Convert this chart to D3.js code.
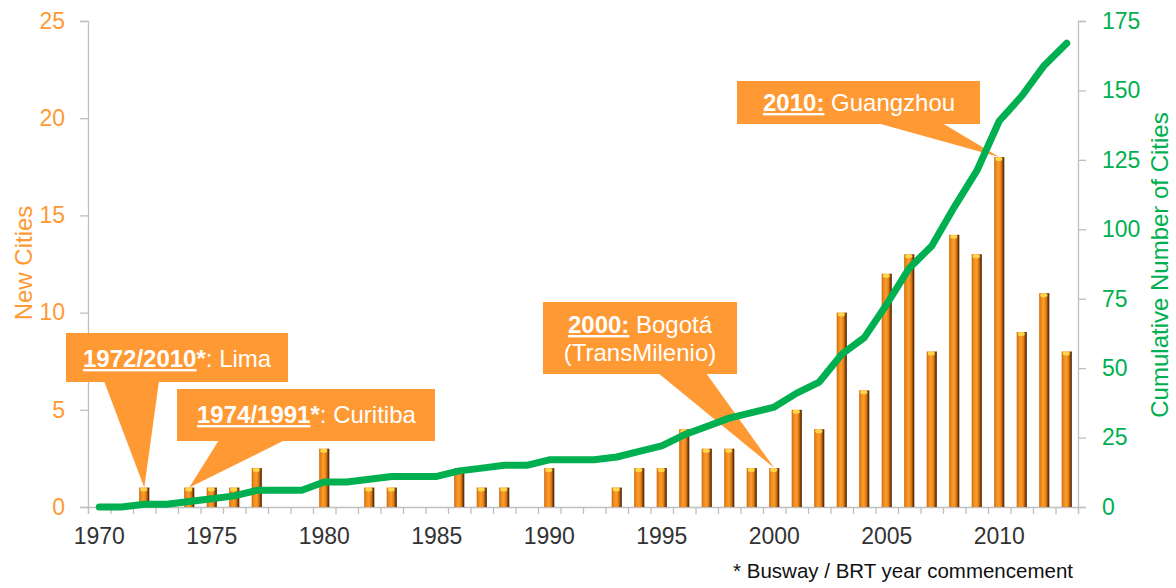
<!DOCTYPE html>
<html>
<head>
<meta charset="utf-8">
<script src="https://cdn.jsdelivr.net/npm/d3@7"></script>
<style>
  body { margin: 0; background: #fff; }
  svg text { font-family: "Liberation Sans", Arial, sans-serif; }
</style>
</head>
<body>
<div class="canvas"></div>
<script>
// data
const years = [1970, 1971, 1972, 1973, 1974, 1975, 1976, 1977, 1978, 1979,
    1980, 1981, 1982, 1983, 1984, 1985, 1986, 1987, 1988, 1989,
    1990, 1991, 1992, 1993, 1994, 1995, 1996, 1997, 1998, 1999,
    2000, 2001, 2002, 2003, 2004, 2005, 2006, 2007, 2008, 2009,
    2010, 2011, 2012, 2013]
const newCities = [0, 0, 1, 0, 1, 1, 1, 2, 0, 0,
    3, 0, 1, 1, 0, 0, 2, 1, 1, 0,
    2, 0, 0, 1, 2, 2, 4, 3, 3, 2,
    2, 5, 4, 10, 6, 12, 13, 8, 14, 13,
    18, 9, 11, 8]
const cumulative = [0, 0, 1, 1, 2, 3, 4, 6, 6, 6,
    9, 9, 10, 11, 11, 11, 13, 14, 15, 15,
    17, 17, 17, 18, 20, 22, 26, 29, 32, 34,
    36, 41, 45, 55, 61, 73, 86, 94, 108, 121,
    139, 148, 159, 167]
const yearLabels = [1970, 1975, 1980, 1985, 1990, 1995, 2000, 2005, 2010]
const leftTicks = [0, 5, 10, 15, 20, 25]
const rightTicks = [0, 25, 50, 75, 100, 125, 150, 175]

// callouts: year the pointer hits, then text pieces [text, bold, underline]
const callouts = [
    { year: 1972, parts: [["1972/2010", true, true], ["*", true, false], [": Lima", false, false]] },
    { year: 1974, parts: [["1974/1991", true, true], ["*", true, false], [": Curitiba", false, false]] },
    { year: 2000, parts: [["2000:", true, true], [" Bogotá", false, false]], line2: "(TransMilenio)" },
    { year: 2010, parts: [["2010:", true, true], [" Guangzhou", false, false]] }
]

const width = 1176
const height = 588
const orange = "#ff9933"
const green = "#00b050"
const axisGrey = "#bfbfbf"

const svg = d3.select(".canvas").append("svg")
    .attr("width", width)
    .attr("height", height)

const x = d3.scaleBand()
    .domain(years)
    .range([88, 1078])
    .paddingInner(0.55)
    .paddingOuter(0.275)
const xEdge = d3.scaleLinear().domain([1970, 2014]).range([88, 1078])
const yLeft = d3.scaleLinear().domain([0, 25]).range([507, 21])
const yRight = d3.scaleLinear().domain([0, 175]).range([507, 21])

// gradient for cylinder bars
const defs = svg.append("defs")
const grad = defs.append("linearGradient").attr("id", "barGrad")
    .attr("x1", "0%").attr("x2", "100%").attr("y1", "0%").attr("y2", "0%")
const stops = [[0, "#c8680a"], [0.2, "#f08a1a"], [0.45, "#fb9d30"], [0.7, "#e07a12"], [0.85, "#8a4406"], [1, "#3d1e02"]]
stops.forEach(s => grad.append("stop").attr("offset", s[0]).attr("stop-color", s[1]))

// left axis
const gLeft = svg.append("g").attr("transform", "translate(88,0)")
    .call(d3.axisLeft(yLeft).tickValues(leftTicks).tickSize(8).tickPadding(15))
gLeft.selectAll("path, line").attr("stroke", axisGrey).attr("stroke-width", 1.3)
gLeft.selectAll("text").attr("fill", orange).style("font-size", "23px")

// right axis
const gRight = svg.append("g").attr("transform", "translate(1078,0)")
    .call(d3.axisRight(yRight).tickValues(rightTicks).tickSize(8).tickPadding(16))
gRight.selectAll("path, line").attr("stroke", axisGrey).attr("stroke-width", 1.3)
gRight.selectAll("text").attr("fill", green).style("font-size", "23px")

// bottom axis, ticks between the years
const gBottom = svg.append("g").attr("transform", "translate(0,507)")
    .call(d3.axisBottom(xEdge).tickValues(d3.range(1970, 2015)).tickSize(7).tickFormat(""))
gBottom.selectAll("path, line").attr("stroke", axisGrey).attr("stroke-width", 1.3)

svg.append("g").selectAll("text")
    .data(yearLabels)
    .enter()
    .append("text")
    .attr("x", d => x(d) + x.bandwidth() / 2)
    .attr("y", 544)
    .attr("text-anchor", "middle")
    .attr("fill", "#333")
    .style("font-size", "23px")
    .text(d => d)

// axis titles
svg.append("text")
    .attr("transform", "translate(32,263) rotate(-90)")
    .attr("text-anchor", "middle")
    .attr("fill", orange)
    .style("font-size", "24px")
    .text("New Cities")
svg.append("text")
    .attr("transform", "translate(1168,265) rotate(-90)")
    .attr("text-anchor", "middle")
    .attr("fill", green)
    .style("font-size", "24px")
    .text("Cumulative Number of Cities")

// footnote
svg.append("text")
    .attr("x", 1073)
    .attr("y", 578)
    .attr("text-anchor", "end")
    .attr("fill", "#111")
    .style("font-size", "20.5px")
    .text("* Busway / BRT year commencement")

// callout boxes (layout only) - tip points come from the scales
const boxes = [
    { x0: 66, y0: 333, w: 222, h: 49, b0: 104, b1: 159, tx: 83, ty: 367 },
    { x0: 177, y0: 389, w: 258, h: 52, b0: 219, b1: 285, tx: 197, ty: 423 },
    { x0: 543, y0: 302, w: 194, h: 72, b0: 658, b1: 706, tx: 640, ty: 333, center: true },
    { x0: 737, y0: 81, w: 243, h: 43, b0: 877, b1: 942, tx: 763, ty: 111 }
]
const gCall = svg.append("g")
callouts.forEach(function (c, i) {
    const b = boxes[i]
    const idx = years.indexOf(c.year)
    const tipX = x(c.year) + x.bandwidth() / 2
    const tipY = yLeft(newCities[idx])
    gCall.append("path")
        .attr("d", `M${b.b0},${b.y0 + b.h - 1}L${tipX},${tipY}L${b.b1},${b.y0 + b.h - 1}Z`)
        .attr("fill", orange)
    gCall.append("rect")
        .attr("x", b.x0).attr("y", b.y0)
        .attr("width", b.w).attr("height", b.h)
        .attr("fill", orange)
    const t = gCall.append("text")
        .attr("x", b.tx).attr("y", b.ty)
        .attr("fill", "#fff")
        .attr("text-anchor", b.center ? "middle" : "start")
        .style("font-size", "24px")
    c.parts.forEach(function (p) {
        t.append("tspan")
            .style("font-weight", p[1] ? "bold" : "normal")
            .style("text-decoration", p[2] ? "underline" : "none")
            .text(p[0])
    })
    if (c.line2) {
        gCall.append("text")
            .attr("x", b.tx).attr("y", b.ty + 28)
            .attr("fill", "#fff")
            .attr("text-anchor", "middle")
            .style("font-size", "24px")
            .text(c.line2)
    }
})

// bars
const barData = years.map((yr, i) => ({ year: yr, value: newCities[i] })).filter(d => d.value > 0)
const gBars = svg.append("g")
gBars.selectAll("rect")
    .data(barData)
    .enter()
    .append("rect")
    .attr("x", d => x(d.year))
    .attr("y", d => yLeft(d.value))
    .attr("width", x.bandwidth())
    .attr("height", d => yLeft(0) - yLeft(d.value))
    .attr("fill", "url(#barGrad)")
gBars.selectAll("ellipse")
    .data(barData)
    .enter()
    .append("ellipse")
    .attr("cx", d => x(d.year) + x.bandwidth() / 2 - 0.5)
    .attr("cy", d => yLeft(d.value) + 2)
    .attr("rx", x.bandwidth() / 2 - 1.5)
    .attr("ry", 2)
    .attr("fill", "#ffd54a")

// cumulative line
const line = d3.line()
    .x((d, i) => x(years[i]) + x.bandwidth() / 2)
    .y(d => yRight(d))
svg.append("path")
    .datum(cumulative)
    .attr("d", line)
    .attr("fill", "none")
    .attr("stroke", green)
    .attr("stroke-width", 7)
    .attr("stroke-linejoin", "round")
    .attr("stroke-linecap", "round")
</script>
</body>
</html>
